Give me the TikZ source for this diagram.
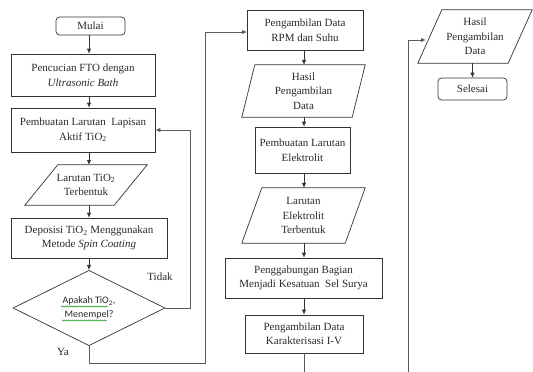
\documentclass[tikz,border=0pt]{standalone}
\usepackage{fontspec}
\setmainfont{Liberation Serif}
\newfontfamily\calib{Carlito}
\usetikzlibrary{arrows.meta,shapes.geometric,decorations.pathmorphing}
\definecolor{lc}{HTML}{333333}
\definecolor{tc}{HTML}{2A2A2A}
\definecolor{gl}{HTML}{5A5A5A}
\newcommand\drawpara[2]{\draw[paraline] ([xshift=#2]#1.north west) -- (#1.north east) -- ([xshift=-#2]#1.south east) -- (#1.south west) -- cycle;}
\begin{document}
\begin{tikzpicture}[x=1pt,y=-1pt,
  txt/.style={font=\fontsize{11}{14.5}\selectfont, text=tc, align=center},
  box/.style={txt, draw=lc, line width=0.7pt, inner sep=0pt},
  rbox/.style={box, rounded corners=3.5pt},
  paranode/.style={txt, inner sep=0pt},
  paraline/.style={draw=lc, line width=0.7pt},
  decision/.style={diamond, draw=lc, line width=0.7pt, inner sep=0pt, text=tc, align=center, font=\calib\fontsize{10}{14}\selectfont},
  arr/.style={draw=lc, line width=0.7pt, -{Latex[length=5pt,width=4.5pt]}},
  looparr/.style={draw=gl, line width=0.9pt, -{Latex[length=5pt,width=4.5pt]}},
  spell/.style={draw=green!55!black, line width=0.4pt, decorate, decoration={snake, segment length=2pt, amplitude=0.6pt}},
  lbl/.style={txt, inner sep=0pt}]
\useasboundingbox (0,0) rectangle (533,372);
\fill[white] (0,0) rectangle (533,372);
% column 1
\coordinate (c1) at (89,0);
\node[rbox, minimum width=69pt, minimum height=18pt] (mulai) at (90.5,26) {Mulai};
\node[box, minimum width=144pt, minimum height=42pt] (cuci) at (83,75) {Pencucian FTO dengan\\\textit{Ultrasonic Bath}};
\node[box, minimum width=144pt, minimum height=44pt] (larutan) at (83,130) {Pembuatan Larutan\ \ Lapisan\\Aktif TiO\textsubscript{2}};
\node[paranode, minimum width=122pt, minimum height=40pt] (tio) at (86,185) {Larutan TiO\textsubscript{2}\\Terbentuk};
\drawpara{tio}{33pt}
\node[box, minimum width=156pt, minimum height=40pt] (depo) at (89,238) {Deposisi TiO\textsubscript{2} Menggunakan\\Metode \textit{Spin Coating}};
\node[decision, minimum width=152pt, minimum height=70pt] (dia) at (89,308) {Apakah TiO\textsubscript{2},\\Menempel?};
\draw[spell] ([shift={(-28,-1.5)}]dia.center) -- ([shift={(19,-1.5)}]dia.center);
\draw[spell] ([shift={(-27,12.5)}]dia.center) -- ([shift={(18,12.5)}]dia.center);
\node[lbl] (tidak) at (160,277) {Tidak};
\node[lbl] (ya) at (63,352) {Ya};
% column 2
\coordinate (c2) at (304,0);
\node[box, minimum width=116pt, minimum height=40pt] (rpm) at (305,30) {Pengambilan Data\\RPM dan Suhu};
\node[paranode, minimum width=123pt, minimum height=52pt] (hasil1) at (303.5,91) {Hasil\\Pengambilan\\Data};
\drawpara{hasil1}{13pt}
\node[box, minimum width=95pt, minimum height=46pt] (elek) at (302.5,150) {Pembuatan Larutan\\Elektrolit};
\node[paranode, minimum width=123pt, minimum height=55pt] (lel) at (303.5,215.5) {Larutan\\Elektrolit\\Terbentuk};
\drawpara{lel}{20pt}
\node[box, minimum width=157pt, minimum height=40pt] (gabung) at (303.5,278) {Penggabungan Bagian\\Menjadi Kesatuan\ \ Sel Surya};
\node[box, minimum width=118pt, minimum height=38pt] (iv) at (304,334) {Pengambilan Data\\Karakterisasi I-V};
% column 3
\node[paranode, minimum width=114pt, minimum height=53pt] (hasil2) at (475,36.5) {Hasil\\Pengambilan\\Data};
\drawpara{hasil2}{24pt}
\node[rbox, minimum width=69pt, minimum height=22pt] (selesai) at (472.5,89) {Selesai};
% connectors column 1
\draw[arr] (c1 |- mulai.south) -- (c1 |- cuci.north);
\draw[arr] (c1 |- cuci.south) -- (c1 |- larutan.north);
\draw[arr] (c1 |- larutan.south) -- (c1 |- tio.north);
\draw[arr] (c1 |- tio.south) -- (c1 |- depo.north);
\draw[arr] (c1 |- depo.south) -- (dia.north);
% loops
\coordinate (tk) at (190,0);
\draw[looparr] (dia.east) -- (dia.east -| tk) |- (larutan.east);
\coordinate (yc) at (205,363);
\coordinate (rpmin) at (247,32);
\draw[looparr] (dia.south) |- (yc) |- (rpmin);
\coordinate (ivc) at (408,380);
\coordinate (hin) at (426,40);
\draw[looparr] (c2 |- iv.south) |- (ivc) |- (hin);
% connectors column 2
\draw[arr] (c2 |- rpm.south) -- (c2 |- hasil1.north);
\draw[arr] (c2 |- hasil1.south) -- (c2 |- elek.north);
\draw[arr] (c2 |- elek.south) -- (c2 |- lel.north);
\draw[arr] (c2 |- lel.south) -- (c2 |- gabung.north);
\draw[arr] (c2 |- gabung.south) -- (c2 |- iv.north);
% column 3
\draw[arr] (selesai |- hasil2.south) -- (selesai.north);
\end{tikzpicture}
\end{document}
